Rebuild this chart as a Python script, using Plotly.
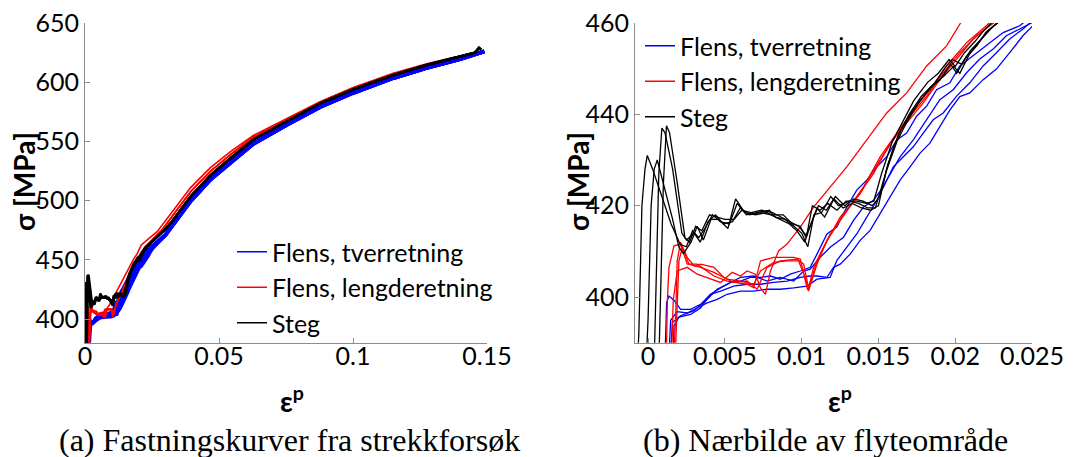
import plotly.graph_objects as go

# ---------------------------------------------------------------------------
# Test data: true stress vs plastic strain, yield region per specimen
# ---------------------------------------------------------------------------

# Flens, tverretning (flange, transverse direction) - four specimens
tver_1_eps = [0.00104, 0.00121, 0.00136, 0.00169, 0.00212, 0.00277, 0.00342, 0.00407, 0.00472, 0.00537,
              0.00602, 0.00667, 0.00732, 0.00797, 0.00861, 0.00926, 0.00991, 0.01056, 0.0110, 0.01165,
              0.01229, 0.01294, 0.01359, 0.01424, 0.0149, 0.01554, 0.01619, 0.01684, 0.01749, 0.01814,
              0.01879, 0.01965, 0.0203, 0.02117, 0.02203, 0.02312, 0.0242, 0.0246]
tver_1_sig = [380.0, 398.8, 400.2, 399.3, 397.3, 397.3, 398.4, 400.6, 402.0, 403.2,
              403.5, 404.3, 404.3, 404.6, 403.9, 405.0, 405.7, 406.5, 409.4, 413.8,
              415.3, 419.7, 423.4, 425.6, 428.5, 430.7, 434.4, 435.9, 439.6, 441.8,
              445.4, 446.9, 450.6, 452.8, 455.0, 457.9, 459.4, 460.5]

tver_2_eps = [0.00126, 0.00147, 0.0019, 0.00255, 0.0032, 0.00385, 0.0045, 0.00515, 0.00602, 0.00688,
              0.00775, 0.00861, 0.00948, 0.01035, 0.0110, 0.01165, 0.01186, 0.01229, 0.01294, 0.01359,
              0.01424, 0.0149, 0.01554, 0.01641, 0.01727, 0.01814, 0.0190, 0.01987, 0.02074, 0.0216,
              0.02247, 0.02333, 0.0242, 0.02496, 0.0252]
tver_2_sig = [380.0, 394.9, 396.8, 396.5, 397.6, 398.7, 399.5, 400.6, 401.3, 401.3,
              401.7, 401.7, 402.0, 402.4, 403.9, 404.3, 404.3, 408.0, 410.9, 413.8,
              417.5, 421.2, 425.6, 430.7, 434.4, 438.8, 443.2, 445.4, 449.1, 452.1,
              454.3, 457.2, 458.7, 460.0, 461.0]

tver_3_eps = [0.00136, 0.00158, 0.00212, 0.00299, 0.00385, 0.0045, 0.00515, 0.00602, 0.00688, 0.00775,
              0.00861, 0.00948, 0.01013, 0.01056, 0.01121, 0.01186, 0.01273, 0.01338, 0.01403, 0.01468,
              0.01532, 0.01597, 0.01662, 0.01727, 0.01792, 0.01857, 0.01922, 0.02009, 0.02095, 0.02182,
              0.02268, 0.02355, 0.02441, 0.02485, 0.0252]
tver_3_sig = [380.0, 394.4, 395.9, 397.0, 399.5, 401.7, 402.8, 404.3, 404.6, 403.5,
              404.3, 403.5, 405.7, 406.1, 408.7, 410.9, 413.1, 416.8, 419.7, 421.2,
              424.1, 428.5, 430.7, 432.9, 435.9, 438.8, 440.3, 444.0, 446.9, 450.6,
              453.5, 456.5, 458.7, 460.0, 461.0]

tver_4_eps = [0.00158, 0.00169, 0.00201, 0.00277, 0.00342, 0.00407, 0.00472, 0.00558, 0.00645, 0.00732,
              0.00818, 0.00905, 0.00991, 0.01056, 0.0110, 0.01165, 0.01208, 0.01251, 0.01316, 0.01381,
              0.01446, 0.01511, 0.01576, 0.01641, 0.01706, 0.01771, 0.01835, 0.0190, 0.01965, 0.0203,
              0.02095, 0.02182, 0.02268, 0.02355, 0.02441, 0.02506, 0.0255]
tver_4_sig = [380.0, 393.7, 395.6, 396.2, 397.6, 400.6, 401.3, 402.4, 402.8, 402.8,
              403.2, 403.5, 404.3, 404.6, 404.6, 404.3, 406.5, 407.2, 409.4, 412.4,
              414.6, 418.3, 421.9, 425.6, 428.5, 431.5, 433.7, 437.4, 440.9, 443.9,
              444.7, 447.6, 449.9, 453.5, 457.2, 459.4, 460.5]

# hardening branch, common to the transverse specimens
tver_tail_eps = [0.0300, 0.0320, 0.0394, 0.0469, 0.0544, 0.0628, 0.0753, 0.0877, 0.1001, 0.1150, 0.1275, 0.1399, 0.1490]
tver_tail_sig = [471.0, 477.0, 499.5, 518.0, 532.5, 548.0, 564.0, 579.0, 591.0, 603.5, 612.0, 619.5, 626.0]

# Flens, lengderetning (flange, longitudinal direction) - four specimens
leng_1_eps = [0.00115, 0.00126, 0.00136, 0.00169, 0.00212, 0.00255, 0.0032, 0.00429, 0.00515, 0.00645,
              0.00688, 0.00732, 0.00818, 0.00948, 0.00991, 0.01035, 0.01045, 0.0110, 0.01165, 0.01251,
              0.01359, 0.01468, 0.01576, 0.01684, 0.01792, 0.0190, 0.02009, 0.02117, 0.02225, 0.0229]
leng_1_sig = [380.0, 399.3, 406.5, 411.2, 411.6, 407.2, 407.2, 404.6, 403.5, 402.8,
              402.0, 407.9, 408.7, 408.7, 408.3, 402.0, 401.3, 407.2, 412.4, 416.8,
              421.9, 427.0, 433.7, 438.1, 442.5, 447.6, 452.1, 456.5, 459.4, 461.0]

leng_2_eps = [0.00158, 0.0018, 0.0019, 0.00212, 0.00255, 0.0030, 0.00342, 0.00429, 0.00494, 0.00558,
              0.00645, 0.0071, 0.00775, 0.00861, 0.0097, 0.01013, 0.01045, 0.01078, 0.01143, 0.01251,
              0.01381, 0.01468, 0.01597, 0.01706, 0.01814, 0.01922, 0.0203, 0.02139, 0.02247, 0.0230]
leng_2_sig = [380.0, 396.0, 408.0, 412.0, 408.7, 406.8, 407.2, 406.5, 404.3, 403.2,
              403.5, 401.7, 406.5, 407.9, 408.3, 407.2, 402.0, 406.5, 410.9, 417.5,
              422.6, 427.8, 434.4, 439.6, 444.0, 449.1, 453.5, 457.2, 460.0, 461.5]

leng_3_eps = [0.00147, 0.00164, 0.0019, 0.00255, 0.0032, 0.00385, 0.00472, 0.00548, 0.00602, 0.00645,
              0.00699, 0.00732, 0.00764, 0.00797, 0.0085, 0.00905, 0.00991, 0.01078, 0.01186, 0.01294,
              0.01424, 0.01554, 0.01684, 0.01814, 0.01944, 0.02035, 0.0210]
leng_3_sig = [380.0, 399.3, 405.7, 406.5, 405.0, 404.3, 403.2, 405.4, 404.6, 405.7,
              405.0, 402.0, 400.6, 405.7, 410.1, 411.6, 415.3, 419.7, 424.1, 428.5,
              434.4, 440.3, 444.7, 450.6, 455.0, 460.0, 462.5]

leng_4_eps = [0.00169, 0.0019, 0.00201, 0.00223, 0.00266, 0.00342, 0.00429, 0.00515, 0.00602, 0.00688,
              0.00732, 0.00818, 0.00905, 0.0098, 0.01023, 0.01045, 0.0110, 0.01186, 0.01294, 0.01403,
              0.01511, 0.01619, 0.01727, 0.01835, 0.01944, 0.02074, 0.02203, 0.0225]
leng_4_sig = [380.0, 398.5, 407.9, 410.9, 407.2, 406.5, 405.4, 403.9, 403.5, 402.8,
              405.7, 407.6, 407.9, 407.9, 404.3, 401.7, 407.9, 413.8, 419.0, 424.1,
              430.7, 435.9, 441.0, 445.4, 450.6, 455.7, 459.4, 461.0]

# hardening branches of the longitudinal specimens
leng_tail_eps = [0.0290, 0.0320, 0.0394, 0.0469, 0.0544, 0.0628, 0.0753, 0.0877, 0.1001, 0.1150, 0.1275, 0.1385]
leng_tail_sig = [476.0, 485.0, 507.5, 525.0, 539.0, 553.5, 568.0, 583.0, 595.0, 607.0, 615.0, 621.0]
leng_3_tail_eps = [0.0270, 0.0320, 0.0394, 0.0469, 0.0544, 0.0628, 0.0753, 0.0877, 0.1001, 0.1150, 0.1275, 0.1385]
leng_3_tail_sig = [474.0, 489.0, 511.0, 528.0, 541.5, 555.0, 569.0, 583.5, 595.5, 607.5, 615.5, 621.5]

# Steg (web) - four specimens
steg_1_eps = [-0.0009, -0.0006, -0.0004, -0.0002, -0.00005, 0.0003, 0.0008, 0.0015, 0.0021, 0.0025,
              0.0029, 0.0033, 0.0037, 0.0042, 0.0047, 0.0053, 0.0058, 0.0064, 0.0071, 0.0079,
              0.0083, 0.0089, 0.0095, 0.0100, 0.0104, 0.0108, 0.0113, 0.0119, 0.0124, 0.0131,
              0.0137, 0.0143, 0.0148, 0.0153, 0.0160, 0.0166, 0.0175, 0.0184, 0.0190, 0.0197,
              0.0201, 0.0207, 0.0214, 0.0220, 0.0227, 0.0233]
steg_1_sig = [372.0, 392.0, 420.0, 428.0, 431.0, 428.0, 423.0, 416.0, 411.5, 411.0,
              414.5, 413.0, 415.0, 418.0, 416.5, 416.0, 420.5, 418.0, 418.5, 419.0,
              417.5, 417.0, 415.5, 414.0, 411.0, 418.0, 418.5, 422.0, 420.0, 421.0,
              420.5, 419.5, 419.5, 425.0, 433.0, 437.5, 442.0, 446.0, 447.5, 451.0,
              449.0, 452.5, 455.0, 458.0, 460.0, 461.5]

steg_2_eps = [-0.0003, 0.0000, 0.0002, 0.0004, 0.0006, 0.0010, 0.0016, 0.0020, 0.0023,
              0.0028, 0.0032, 0.0036, 0.0041, 0.0046, 0.0052, 0.0057, 0.0063, 0.0070, 0.0077,
              0.0081, 0.0088, 0.0094, 0.0099, 0.0103, 0.0107, 0.0112, 0.0117, 0.0123, 0.0129,
              0.0136, 0.0142, 0.0147, 0.0152, 0.0159, 0.0165, 0.0173, 0.0182, 0.0189, 0.0196,
              0.0200, 0.0206, 0.0213, 0.0219, 0.0225]
steg_2_sig = [372.0, 395.0, 420.0, 428.0, 430.0, 425.0, 417.0, 411.0, 409.5,
              412.0, 415.5, 412.5, 417.0, 417.0, 415.0, 421.5, 418.5, 418.0, 418.5,
              418.0, 418.0, 416.0, 415.5, 413.0, 420.0, 419.0, 420.5, 419.0, 421.0,
              421.0, 420.5, 421.0, 427.0, 434.0, 438.0, 443.0, 447.0, 449.0, 452.0,
              450.5, 453.5, 456.0, 458.5, 460.5]

steg_3_eps = [0.0003, 0.0005, 0.0007, 0.0009, 0.0011, 0.0016, 0.0022, 0.0025,
              0.0030, 0.0034, 0.0039, 0.0044, 0.0049, 0.0055, 0.0060, 0.0066, 0.0073, 0.0080,
              0.0086, 0.0092, 0.0097, 0.0102, 0.0105, 0.0110, 0.0115, 0.0121, 0.0127, 0.0133,
              0.0139, 0.0145, 0.0150, 0.0155, 0.0162, 0.0168, 0.0177, 0.0186, 0.0193, 0.0199,
              0.0203, 0.0209, 0.0216, 0.0222, 0.0229]
steg_3_sig = [372.0, 400.0, 427.0, 437.0, 436.0, 428.0, 414.0, 412.5,
              414.0, 412.0, 416.5, 418.0, 416.0, 416.5, 419.5, 418.0, 418.5, 418.0,
              417.0, 416.0, 414.5, 412.0, 415.0, 419.5, 417.5, 421.5, 419.5, 420.5,
              419.5, 419.0, 420.0, 427.5, 434.0, 438.0, 443.0, 446.5, 448.5, 450.5,
              449.0, 453.0, 456.0, 458.5, 460.5]

steg_4_eps = [0.0006, 0.0008, 0.0010, 0.0012, 0.0014, 0.0019, 0.0024, 0.0027,
              0.0031, 0.0035, 0.0040, 0.0045, 0.0050, 0.0056, 0.0061, 0.0067, 0.0074, 0.0081,
              0.0087, 0.0093, 0.0098, 0.0103, 0.0106, 0.0111, 0.0116, 0.0122, 0.0128, 0.0134,
              0.0140, 0.0146, 0.0151, 0.0156, 0.0163, 0.0170, 0.0178, 0.0187, 0.0194, 0.0198,
              0.0204, 0.0210, 0.0217, 0.0224, 0.0231]
steg_4_sig = [372.0, 400.0, 425.0, 437.5, 436.0, 425.0, 413.0, 412.0,
              415.5, 414.5, 418.0, 417.5, 417.0, 417.0, 419.0, 418.5, 419.0, 418.5,
              417.5, 416.5, 415.5, 413.5, 416.0, 420.0, 419.0, 422.0, 420.0, 421.5,
              421.0, 420.0, 422.0, 429.0, 435.5, 440.0, 444.0, 447.0, 450.5, 452.0,
              451.0, 454.0, 456.5, 459.0, 461.0]

# hardening branch, common to the web specimens
steg_tail_eps = [0.0300, 0.0320, 0.0394, 0.0469, 0.0544, 0.0628, 0.0753, 0.0877, 0.1001, 0.1150, 0.1275, 0.1399, 0.1455, 0.1470, 0.1478]
steg_tail_sig = [476.0, 481.0, 503.5, 521.5, 536.0, 551.5, 567.0, 582.0, 594.0, 606.0, 614.5, 621.5, 625.0, 629.0, 627.5]

# axis ticks
left_x_ticks = [0, 0.05, 0.1, 0.15]
left_y_ticks = [400, 450, 500, 550, 600, 650]
right_x_ticks = [0, 0.005, 0.01, 0.015, 0.02, 0.025]
right_y_ticks = [400, 420, 440, 460]

# ---------------------------------------------------------------------------

BLUE, RED, BLACK = "#0000ff", "#ff0000", "#000000"
W, H = 1085, 457
SANS = "Lato, 'Open Sans', sans-serif"
TICK_FONT = dict(family=SANS, size=25, color="black")
AXIS_GREY = "#8c8c8c"

groups = [
    ("Flens, tverretning", BLUE, 3.8, [
        (tver_1_eps, tver_1_sig, tver_tail_eps, tver_tail_sig),
        (tver_2_eps, tver_2_sig, tver_tail_eps, tver_tail_sig),
        (tver_3_eps, tver_3_sig, tver_tail_eps, tver_tail_sig),
        (tver_4_eps, tver_4_sig, tver_tail_eps, tver_tail_sig),
    ]),
    ("Flens, lengderetning", RED, 1.6, [
        (leng_1_eps, leng_1_sig, leng_tail_eps, leng_tail_sig),
        (leng_2_eps, leng_2_sig, leng_tail_eps, leng_tail_sig),
        (leng_3_eps, leng_3_sig, leng_3_tail_eps, leng_3_tail_sig),
        (leng_4_eps, leng_4_sig, leng_tail_eps, leng_tail_sig),
    ]),
    ("Steg", BLACK, 2.4, [
        (steg_1_eps, steg_1_sig, steg_tail_eps, steg_tail_sig),
        (steg_2_eps, steg_2_sig, steg_tail_eps, steg_tail_sig),
        (steg_3_eps, steg_3_sig, steg_tail_eps, steg_tail_sig),
        (steg_4_eps, steg_4_sig, steg_tail_eps, steg_tail_sig),
    ]),
]

fig = go.Figure()

for name, color, wide, curves in groups:
    for e0, s0, e1, s1 in curves:
        eps = list(e0) + list(e1)
        sig = list(s0) + list(s1)
        # full curve (left panel)
        fig.add_trace(go.Scatter(
            x=eps, y=sig, mode="lines", xaxis="x", yaxis="y",
            line=dict(color=color, width=wide), name=name, showlegend=False,
        ))
        # yield region close-up (right panel)
        fig.add_trace(go.Scatter(
            x=eps, y=sig, mode="lines", xaxis="x2", yaxis="y2",
            line=dict(color=color, width=1.3), name=name, showlegend=False,
        ))

# thin-line legend keys, one legend per panel
for legend_id, xa, ya in [("legend", "x", "y"), ("legend2", "x2", "y2")]:
    for name, color, _, _ in groups:
        fig.add_trace(go.Scatter(
            x=[None], y=[None], mode="lines", xaxis=xa, yaxis=ya,
            line=dict(color=color, width=1.5), name=name,
            legend=legend_id, legendgroup=legend_id + name, showlegend=True,
        ))

# panel placement in pixels
L_X0, L_X1 = 85.0, 487.0
R_X0, R_X1 = 635.0, 1032.0
R_XMIN = -0.00085
Y_TOP, Y_BOT = 23.0, 342.7


def px(x):
    return x / W


def py(y):
    return 1 - y / H


axis_common = dict(
    showline=True, linecolor=AXIS_GREY, linewidth=1, mirror=False,
    ticks="inside", ticklen=5, tickcolor=AXIS_GREY, tickwidth=1,
    showgrid=False, zeroline=False, tickfont=TICK_FONT, automargin=False,
)

legend_common = dict(
    xanchor="left", yanchor="top", bgcolor="rgba(0,0,0,0)", borderwidth=0,
    font=TICK_FONT, tracegroupgap=0, traceorder="grouped", itemwidth=30,
)

fig.update_layout(
    width=W, height=H,
    margin=dict(l=0, r=0, t=0, b=0, autoexpand=False),
    paper_bgcolor="white", plot_bgcolor="white",
    xaxis=dict(domain=[px(L_X0), px(L_X1)], range=[0, 0.15], tickvals=left_x_ticks,
               anchor="y", ticklabelstandoff=-9, **axis_common),
    yaxis=dict(domain=[py(Y_BOT), py(Y_TOP)], range=[380, 650], tickvals=left_y_ticks,
               anchor="x", **axis_common),
    xaxis2=dict(domain=[px(R_X0), px(R_X1)], range=[R_XMIN, 0.025], tickvals=right_x_ticks,
                anchor="y2", ticklabelstandoff=-9, **axis_common),
    yaxis2=dict(domain=[py(Y_BOT), py(Y_TOP)], range=[390, 460], tickvals=right_y_ticks,
                anchor="x2", **axis_common),
    legend=dict(x=px(232), y=py(229), **legend_common),
    legend2=dict(x=px(640), y=py(23), **legend_common),
)

LABEL_FONT = dict(family=SANS, size=28, color="black")
CAPTION_FONT = dict(family="'Liberation Serif', 'DejaVu Serif', serif", size=32, color="black")

annotations = [
    # y-axis titles
    dict(text="<b>σ [MPa]</b>", x=px(24), y=py(182), textangle=-90),
    dict(text="<b>σ [MPa]</b>", x=px(578), y=py(182), textangle=-90),
    # x-axis titles
    dict(text="<b>ε<sup>p</sup></b>", x=px(292), y=py(399)),
    dict(text="<b>ε<sup>p</sup></b>", x=px(840), y=py(399)),
]
for a in annotations:
    a.update(xref="paper", yref="paper", showarrow=False, font=LABEL_FONT,
             xanchor="center", yanchor="middle")
    fig.add_annotation(**a)

for text, xc in [("(a) Fastningskurver fra strekkforsøk", 289),
                 ("(b) Nærbilde av flyteområde", 826)]:
    fig.add_annotation(text=text, x=px(xc), y=py(440), xref="paper", yref="paper",
                       showarrow=False, font=CAPTION_FONT, xanchor="center", yanchor="middle")

fig.write_html("out.html")
